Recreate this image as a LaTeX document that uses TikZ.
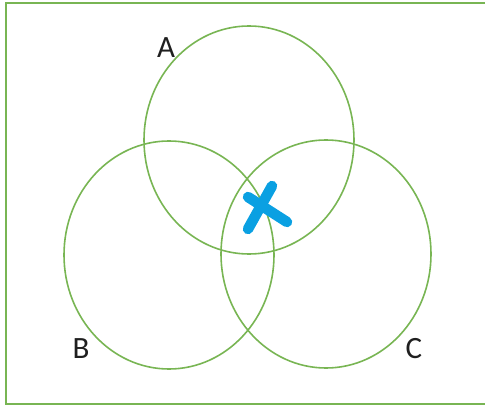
\documentclass[tikz,border=0pt]{standalone}
\usepackage{fontspec}
\setmainfont{Carlito}
\usetikzlibrary{shapes.geometric}
\definecolor{setgreen}{HTML}{78B553}
\definecolor{markblue}{HTML}{0AA0E2}

\begin{document}
\begin{tikzpicture}[x=1pt,y=-1pt,
  set/.style={ellipse,draw=setgreen,line width=1.6pt,minimum width=210pt,minimum height=228pt,inner sep=0pt},
  setname/.style={font=\fontsize{31}{36}\selectfont,text=black!88},
  cross/.style={draw=markblue,line width=10.5pt,line cap=round}]
\useasboundingbox (0,0) rectangle (485,406);
\draw [setgreen,line width=2.2pt] (6,3) rectangle (492,404);
\node [set] (a) at (249,140) {};
\node [set] (b) at (169,255) {};
\node [set] (c) at (326,254) {};
\node [setname] (la) at (166,48) {A};
\node [setname] (lb) at (81,349) {B};
\node [setname] (lc) at (414,349) {C};
% the mark in the middle
\coordinate (x1) at (248,197);
\coordinate (x2) at (287,222);
\coordinate (x3) at (272,186);
\coordinate (x4) at (248,229);
\draw [cross] (x1) -- (x2);
\draw [cross] (x3) -- (x4);
\end{tikzpicture}
\end{document}
